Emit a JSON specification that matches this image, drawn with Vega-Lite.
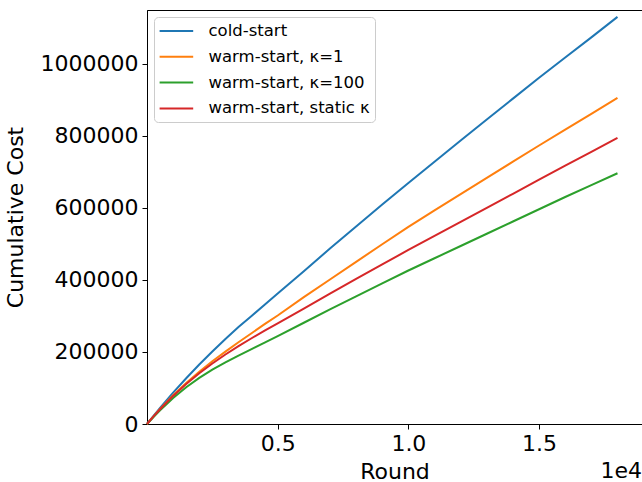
{
  "$schema": "https://vega.github.io/schema/vega-lite/v6.json",
  "width": 495,
  "height": 414,
  "autosize": {"type": "none"},
  "padding": {"left": 147, "top": 10, "right": 0, "bottom": 58},
  "config": {
    "font": "DejaVu Sans",
    "background": "white",
    "view": {"stroke": "black", "strokeWidth": 1},
    "axis": {
      "grid": false,
      "domainColor": "black",
      "domainWidth": 1,
      "tickColor": "black",
      "tickWidth": 1,
      "tickSize": 5,
      "labelPadding": 4,
      "labelColor": "black",
      "titleColor": "black",
      "labelFontSize": 22,
      "titleFontSize": 22,
      "titleFontWeight": "normal"
    }
  },
  "title": {
    "text": "1e4",
    "orient": "bottom",
    "anchor": "end",
    "fontSize": 22,
    "fontWeight": "normal",
    "color": "black",
    "offset": -21
  },
  "data": {
    "values": [
      {"t": 0, "v": 0, "s": "cold-start"},
      {"t": 250, "v": 22500, "s": "cold-start"},
      {"t": 500, "v": 44500, "s": "cold-start"},
      {"t": 1000, "v": 87000, "s": "cold-start"},
      {"t": 1500, "v": 127000, "s": "cold-start"},
      {"t": 2000, "v": 165000, "s": "cold-start"},
      {"t": 2500, "v": 201000, "s": "cold-start"},
      {"t": 3000, "v": 236000, "s": "cold-start"},
      {"t": 3500, "v": 269000, "s": "cold-start"},
      {"t": 4000, "v": 300000, "s": "cold-start"},
      {"t": 4500, "v": 331000, "s": "cold-start"},
      {"t": 5000, "v": 362000, "s": "cold-start"},
      {"t": 6000, "v": 424000, "s": "cold-start"},
      {"t": 7000, "v": 487000, "s": "cold-start"},
      {"t": 8000, "v": 548000, "s": "cold-start"},
      {"t": 9000, "v": 609000, "s": "cold-start"},
      {"t": 10000, "v": 669000, "s": "cold-start"},
      {"t": 11000, "v": 728000, "s": "cold-start"},
      {"t": 12000, "v": 787000, "s": "cold-start"},
      {"t": 13000, "v": 845000, "s": "cold-start"},
      {"t": 14000, "v": 903000, "s": "cold-start"},
      {"t": 15000, "v": 961000, "s": "cold-start"},
      {"t": 16000, "v": 1017000, "s": "cold-start"},
      {"t": 17000, "v": 1073000, "s": "cold-start"},
      {"t": 18000, "v": 1130000, "s": "cold-start"},

      {"t": 0, "v": 0, "s": "warm-start, κ=1"},
      {"t": 250, "v": 21000, "s": "warm-start, κ=1"},
      {"t": 500, "v": 41500, "s": "warm-start, κ=1"},
      {"t": 1000, "v": 80000, "s": "warm-start, κ=1"},
      {"t": 1500, "v": 114000, "s": "warm-start, κ=1"},
      {"t": 2000, "v": 145000, "s": "warm-start, κ=1"},
      {"t": 2500, "v": 174000, "s": "warm-start, κ=1"},
      {"t": 3000, "v": 201000, "s": "warm-start, κ=1"},
      {"t": 3500, "v": 227000, "s": "warm-start, κ=1"},
      {"t": 4000, "v": 252000, "s": "warm-start, κ=1"},
      {"t": 4500, "v": 277000, "s": "warm-start, κ=1"},
      {"t": 5000, "v": 301000, "s": "warm-start, κ=1"},
      {"t": 6000, "v": 352000, "s": "warm-start, κ=1"},
      {"t": 7000, "v": 401000, "s": "warm-start, κ=1"},
      {"t": 8000, "v": 450000, "s": "warm-start, κ=1"},
      {"t": 9000, "v": 499000, "s": "warm-start, κ=1"},
      {"t": 10000, "v": 547000, "s": "warm-start, κ=1"},
      {"t": 11000, "v": 593000, "s": "warm-start, κ=1"},
      {"t": 12000, "v": 638000, "s": "warm-start, κ=1"},
      {"t": 13000, "v": 683000, "s": "warm-start, κ=1"},
      {"t": 14000, "v": 728000, "s": "warm-start, κ=1"},
      {"t": 15000, "v": 773000, "s": "warm-start, κ=1"},
      {"t": 16000, "v": 817000, "s": "warm-start, κ=1"},
      {"t": 17000, "v": 861000, "s": "warm-start, κ=1"},
      {"t": 18000, "v": 905000, "s": "warm-start, κ=1"},

      {"t": 0, "v": 0, "s": "warm-start, κ=100"},
      {"t": 250, "v": 19500, "s": "warm-start, κ=100"},
      {"t": 500, "v": 38000, "s": "warm-start, κ=100"},
      {"t": 1000, "v": 72000, "s": "warm-start, κ=100"},
      {"t": 1500, "v": 102000, "s": "warm-start, κ=100"},
      {"t": 2000, "v": 128000, "s": "warm-start, κ=100"},
      {"t": 2500, "v": 151000, "s": "warm-start, κ=100"},
      {"t": 3000, "v": 171000, "s": "warm-start, κ=100"},
      {"t": 3500, "v": 190000, "s": "warm-start, κ=100"},
      {"t": 4000, "v": 208000, "s": "warm-start, κ=100"},
      {"t": 4500, "v": 226000, "s": "warm-start, κ=100"},
      {"t": 5000, "v": 244000, "s": "warm-start, κ=100"},
      {"t": 6000, "v": 281000, "s": "warm-start, κ=100"},
      {"t": 7000, "v": 318000, "s": "warm-start, κ=100"},
      {"t": 8000, "v": 354000, "s": "warm-start, κ=100"},
      {"t": 9000, "v": 390000, "s": "warm-start, κ=100"},
      {"t": 10000, "v": 426000, "s": "warm-start, κ=100"},
      {"t": 11000, "v": 460000, "s": "warm-start, κ=100"},
      {"t": 12000, "v": 494000, "s": "warm-start, κ=100"},
      {"t": 13000, "v": 528000, "s": "warm-start, κ=100"},
      {"t": 14000, "v": 562000, "s": "warm-start, κ=100"},
      {"t": 15000, "v": 596000, "s": "warm-start, κ=100"},
      {"t": 16000, "v": 630000, "s": "warm-start, κ=100"},
      {"t": 17000, "v": 663000, "s": "warm-start, κ=100"},
      {"t": 18000, "v": 696000, "s": "warm-start, κ=100"},

      {"t": 0, "v": 0, "s": "warm-start, static κ"},
      {"t": 250, "v": 21000, "s": "warm-start, static κ"},
      {"t": 500, "v": 41000, "s": "warm-start, static κ"},
      {"t": 1000, "v": 78000, "s": "warm-start, static κ"},
      {"t": 1500, "v": 111000, "s": "warm-start, static κ"},
      {"t": 2000, "v": 141000, "s": "warm-start, static κ"},
      {"t": 2500, "v": 168000, "s": "warm-start, static κ"},
      {"t": 3000, "v": 193000, "s": "warm-start, static κ"},
      {"t": 3500, "v": 216000, "s": "warm-start, static κ"},
      {"t": 4000, "v": 238000, "s": "warm-start, static κ"},
      {"t": 4500, "v": 259000, "s": "warm-start, static κ"},
      {"t": 5000, "v": 279000, "s": "warm-start, static κ"},
      {"t": 6000, "v": 320000, "s": "warm-start, static κ"},
      {"t": 7000, "v": 362000, "s": "warm-start, static κ"},
      {"t": 8000, "v": 403000, "s": "warm-start, static κ"},
      {"t": 9000, "v": 443000, "s": "warm-start, static κ"},
      {"t": 10000, "v": 483000, "s": "warm-start, static κ"},
      {"t": 11000, "v": 522000, "s": "warm-start, static κ"},
      {"t": 12000, "v": 561000, "s": "warm-start, static κ"},
      {"t": 13000, "v": 600000, "s": "warm-start, static κ"},
      {"t": 14000, "v": 639000, "s": "warm-start, static κ"},
      {"t": 15000, "v": 678000, "s": "warm-start, static κ"},
      {"t": 16000, "v": 717000, "s": "warm-start, static κ"},
      {"t": 17000, "v": 755000, "s": "warm-start, static κ"},
      {"t": 18000, "v": 794000, "s": "warm-start, static κ"}
    ]
  },
  "mark": {"type": "line", "strokeWidth": 2},
  "encoding": {
    "x": {
      "field": "t",
      "type": "quantitative",
      "scale": {"domain": [0, 18938], "nice": false, "zero": false},
      "axis": {
        "values": [5000, 10000, 15000],
        "labelExpr": "format(datum.value / 10000, '.1f')",
        "title": "Round",
        "titlePadding": 7
      }
    },
    "y": {
      "field": "v",
      "type": "quantitative",
      "scale": {"domain": [0, 1149000], "nice": false},
      "axis": {
        "values": [0, 200000, 400000, 600000, 800000, 1000000],
        "format": "d",
        "title": "Cumulative Cost",
        "titlePadding": 13
      }
    },
    "color": {
      "field": "s",
      "type": "nominal",
      "scale": {
        "domain": ["cold-start", "warm-start, κ=1", "warm-start, κ=100", "warm-start, static κ"],
        "range": ["#1f77b4", "#ff7f0e", "#2ca02c", "#d62728"]
      },
      "legend": {
        "title": null,
        "orient": "top-left",
        "offset": 7,
        "symbolType": "M-1,0H3",
        "symbolSize": 282,
        "symbolStrokeWidth": 2,
        "labelFontSize": 16.5,
        "labelColor": "black",
        "labelOffset": 31,
        "labelLimit": 400,
        "rowPadding": 7.8,
        "padding": 4.5,
        "strokeColor": "#cccccc",
        "cornerRadius": 4,
        "fillColor": "rgba(255,255,255,0.8)"
      }
    }
  }
}
